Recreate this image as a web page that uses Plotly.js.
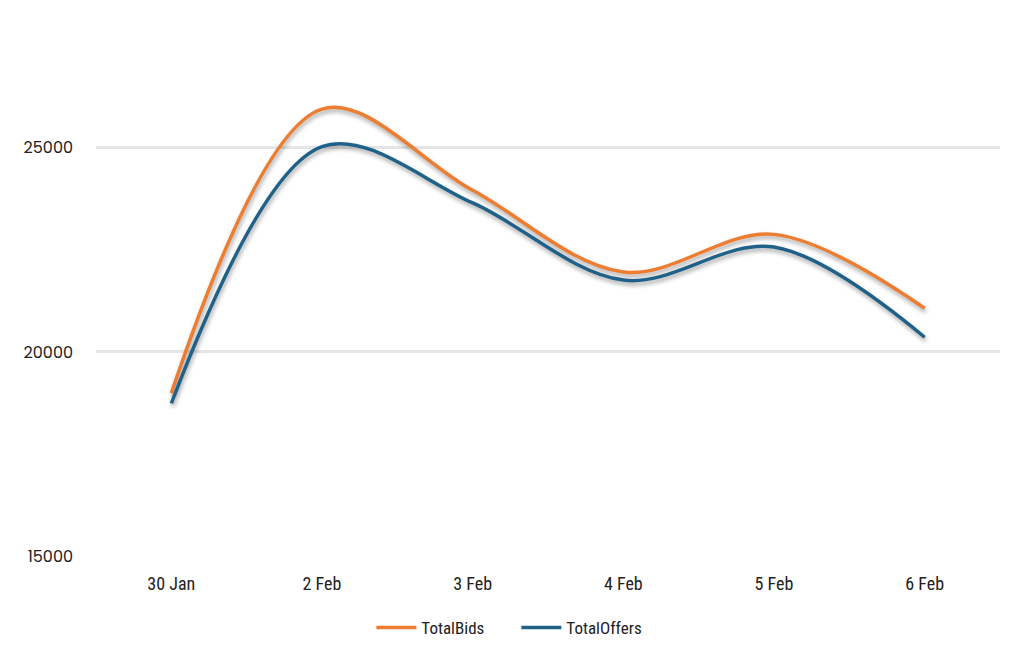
<!DOCTYPE html>
<html><head><meta charset="utf-8">
<script src="https://cdn.plot.ly/plotly-3.0.1.min.js"></script>
<style>
html,body{margin:0;padding:0;background:#fff;}
#chart{width:1024px;height:660px;}
.scatterlayer .trace path.js-line{filter:drop-shadow(1px 3px 2px rgba(0,0,0,0.35));}
</style></head>
<body><div id="chart"></div>
<script>
const categories = ["30 Jan","2 Feb","3 Feb","4 Feb","5 Feb","6 Feb"];
const totalBids = [18990, 25950, 23960, 21960, 22880, 21070];
const totalOffers = [18740, 25030, 23650, 21760, 22570, 20360];
const yTicks = [15000, 20000, 25000];

const traces = [
  {x: categories, y: totalBids, name: "TotalBids", type: "scatter", mode: "lines",
   line: {color: "#ED7D31", width: 3.5, shape: "spline", smoothing: 1}},
  {x: categories, y: totalOffers, name: "TotalOffers", type: "scatter", mode: "lines",
   line: {color: "#1F6188", width: 3.5, shape: "spline", smoothing: 1}}
];
const layout = {
  width: 1024, height: 660,
  margin: {l: 96, r: 24, t: 5, b: 104},
  paper_bgcolor: "#fff", plot_bgcolor: "#fff",
  showlegend: true,
  legend: {orientation: "h", x: 0.465, xanchor: "center", y: -0.098, yanchor: "top",
           font: {family: "Liberation Sans Narrow, Roboto Condensed, Arial Narrow, sans-serif", size: 17, color: "#222"},
           traceorder: "normal", itemwidth: 40, entrywidth: 90, entrywidthmode: "pixels"},
  xaxis: {type: "category", range: [-0.5, 5.5], showgrid: false, zeroline: false, showline: false,
          ticks: "", ticklabelstandoff: 15,
          tickfont: {family: "Liberation Sans Narrow, Roboto Condensed, Arial Narrow, sans-serif", size: 18, color: "#222"}},
  yaxis: {range: [15000, 28500], tickvals: yTicks, ticktext: yTicks.map(String),
          showgrid: true, gridcolor: "#e6e6e6", gridwidth: 3, zeroline: false, showline: false,
          ticks: "", ticklabelstandoff: 22,
          tickfont: {family: "Poppins, Lato, 'Open Sans', sans-serif", size: 16, color: "#222"}}
};
Plotly.newPlot("chart", traces, layout, {displayModeBar: false, staticPlot: true});
</script></body></html>
